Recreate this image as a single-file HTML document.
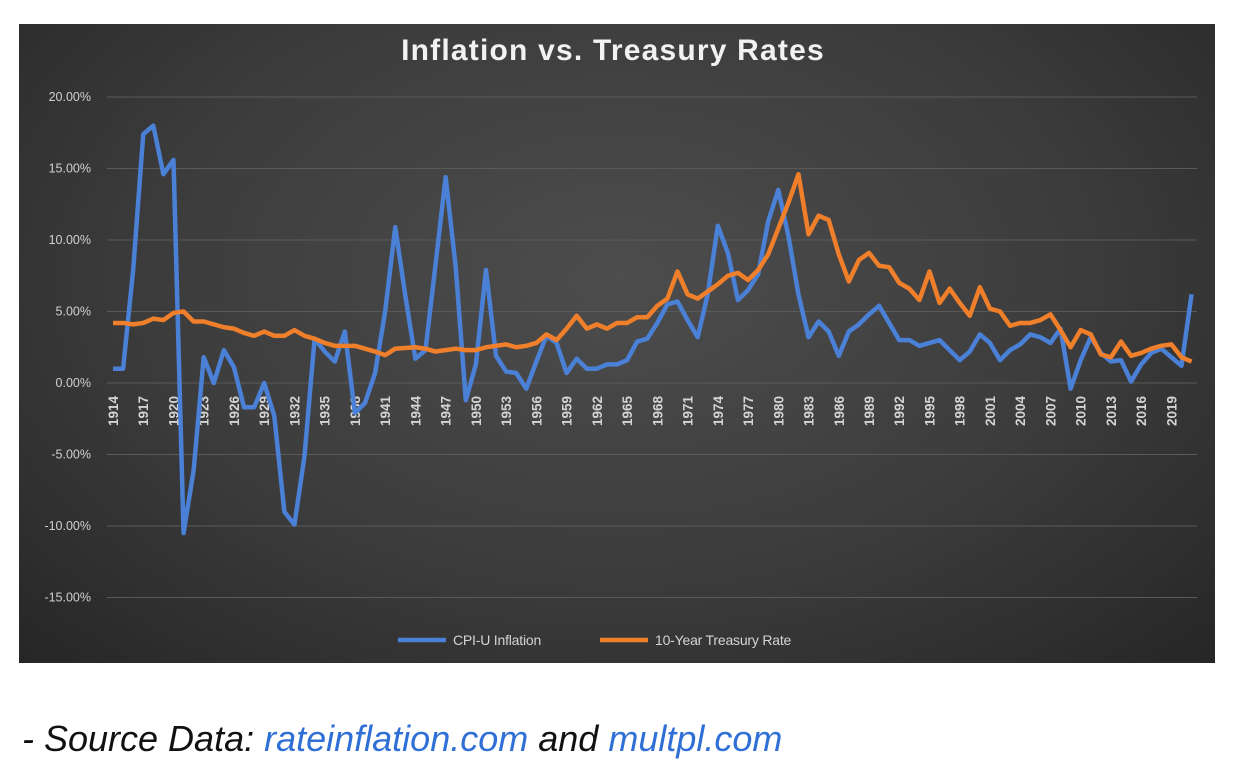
<!DOCTYPE html>
<html><head><meta charset="utf-8"><style>
body{margin:0;width:1234px;height:778px;background:#fff;overflow:hidden;font-family:"Liberation Sans",sans-serif}
#chart{position:absolute;left:19px;top:24px;width:1196px;height:639px;background:radial-gradient(ellipse at 50% 40%,#4d4d4d 0%,#3c3c3c 55%,#262626 100%)}
#src{position:absolute;left:22px;top:718px;font-size:36px;font-style:italic;color:#111}
#src a{color:#2f6fd6;text-decoration:none}
</style></head><body>
<div id="chart">
<svg id="svg" width="1196" height="639"></svg>
</div>
<div id="src">- Source Data: <a>rateinflation.com</a> and <a>multpl.com</a></div>
<script>
const startYear=1914;
const cpi=[1.0,1.0,7.9,17.4,18.0,14.6,15.6,-10.5,-6.1,1.8,0.0,2.3,1.1,-1.7,-1.7,0.0,-2.3,-9.0,-9.9,-5.1,3.1,2.2,1.5,3.6,-2.1,-1.4,0.7,5.0,10.9,6.1,1.7,2.3,8.3,14.4,8.1,-1.2,1.3,7.9,1.9,0.8,0.7,-0.4,1.5,3.3,2.8,0.7,1.7,1.0,1.0,1.3,1.3,1.6,2.9,3.1,4.2,5.5,5.7,4.4,3.2,6.2,11.0,9.1,5.8,6.5,7.6,11.3,13.5,10.3,6.2,3.2,4.3,3.6,1.9,3.6,4.1,4.8,5.4,4.2,3.0,3.0,2.6,2.8,3.0,2.3,1.6,2.2,3.4,2.8,1.6,2.3,2.7,3.4,3.2,2.8,3.8,-0.4,1.6,3.2,2.1,1.5,1.6,0.1,1.3,2.1,2.4,1.8,1.2,6.2];
const treasury=[4.2,4.2,4.1,4.2,4.5,4.4,4.9,5.0,4.3,4.3,4.1,3.9,3.8,3.5,3.3,3.6,3.3,3.3,3.7,3.3,3.1,2.8,2.6,2.6,2.6,2.4,2.2,1.95,2.4,2.45,2.5,2.4,2.2,2.3,2.4,2.3,2.3,2.5,2.6,2.7,2.5,2.6,2.8,3.4,3.0,3.8,4.7,3.8,4.1,3.8,4.2,4.2,4.6,4.6,5.4,5.9,7.8,6.2,5.9,6.4,6.9,7.5,7.7,7.2,7.9,9.0,10.8,12.6,14.6,10.4,11.7,11.4,9.0,7.1,8.6,9.1,8.2,8.1,7.0,6.6,5.8,7.8,5.6,6.6,5.6,4.7,6.7,5.2,5.0,4.0,4.2,4.2,4.4,4.8,3.7,2.5,3.7,3.4,2.0,1.8,2.9,1.9,2.1,2.4,2.6,2.7,1.8,1.5];
const yTicks=[20,15,10,5,0,-5,-10,-15];
const NS="http://www.w3.org/2000/svg";
const svg=document.getElementById('svg');
const ox=19,oy=24;
function x(i){return 113+i*10.08-ox;}
function y(v){return 383-v*14.3-oy;}
function mk(t,a){const e=document.createElementNS(NS,t);for(const k in a)e.setAttribute(k,a[k]);svg.appendChild(e);return e;}
let t=mk('text',{x:594,y:36,'text-anchor':'middle','font-size':30,'font-weight':'bold',fill:'#f2f2f2','letter-spacing':'1.2'});


t.textContent='Inflation vs. Treasury Rates';
yTicks.forEach(v=>{
 const g=mk('line',{x1:88,x2:1178,y1:y(v),y2:y(v),stroke:'#5a5a5a','stroke-width':1});
 
 
 const l=mk('text',{x:72,y:y(v)+4,'text-anchor':'end','font-size':12.5,fill:'#d0d0d0'});
 
 
 l.textContent=v.toFixed(2)+'%';
});
for(let i=0;i<cpi.length;i+=3){
 const l=mk('text',{transform:`translate(${x(i)+5},${426-oy}) rotate(-90)`,'font-size':13.5,fill:'#d4d4d4','font-weight':'bold'});
 
 
 l.textContent=startYear+i;
}
function line(arr,c,n){
 const p=mk('polyline',{points:arr.map((v,i)=>x(i)+','+y(v)).join(' '),fill:'none',stroke:c,'stroke-width':4.5,'stroke-linejoin':'round'});
 
 
}
line(cpi,'#4a80d6','cpi-line');
line(treasury,'#ef7f2a','treasury-line');
function leg(x0,c,txt,n){
 const l=mk('line',{x1:x0,x2:x0+48,y1:616,y2:616,stroke:c,'stroke-width':4.5});
 
 
 const tt=mk('text',{x:x0+55,y:621,'font-size':14,fill:'#d4d4d4','letter-spacing':'-0.2'});
 
 
 tt.textContent=txt;
}
leg(379,'#4a80d6','CPI-U Inflation','legend-cpi');
leg(581,'#ef7f2a','10-Year Treasury Rate','legend-treasury');
</script>
</body></html>
